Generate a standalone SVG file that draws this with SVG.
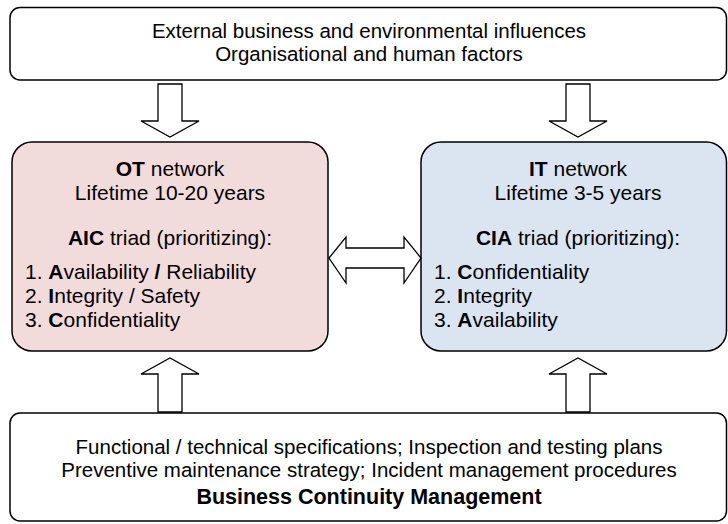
<svg xmlns="http://www.w3.org/2000/svg" width="728" height="524" viewBox="0 0 728 524">
<style>
text{font-family:"Liberation Sans",Arial,sans-serif;font-size:20.5px;fill:#000}
.n text{font-size:21px}
.b{font-weight:bold}
.box{stroke:#000;stroke-width:1.5}
.arr{fill:#fff;stroke:#000;stroke-width:1.3;stroke-linejoin:miter}
</style>
<rect width="728" height="524" fill="#fff"/>
<g id="top">
<rect class="box" x="10" y="7.5" width="716.5" height="72.5" rx="10" fill="#fff"/>
<text x="369" y="38" text-anchor="middle">External business and environmental influences</text>
<text x="369" y="61" text-anchor="middle">Organisational and human factors</text>
</g>
<g id="ot" class="n">
<rect class="box" x="12" y="142" width="316" height="209" rx="20" fill="#f2dcdb"/>
<text x="170" y="176" text-anchor="middle"><tspan class="b">OT</tspan> network</text>
<text x="170" y="200" text-anchor="middle">Lifetime 10-20 years</text>
<text x="170" y="245" text-anchor="middle"><tspan class="b">AIC</tspan> triad (prioritizing):</text>
<text x="25" y="279">1. <tspan class="b">A</tspan>vailability <tspan class="b">/</tspan> Reliability</text>
<text x="25" y="303">2. <tspan class="b">I</tspan>ntegrity / Safety</text>
<text x="25" y="327">3. <tspan class="b">C</tspan>onfidentiality</text>
</g>
<g id="it" class="n">
<rect class="box" x="421" y="142" width="305.5" height="209" rx="20" fill="#dbe5f1"/>
<text x="578" y="176" text-anchor="middle"><tspan class="b">IT</tspan> network</text>
<text x="578" y="200" text-anchor="middle">Lifetime 3-5 years</text>
<text x="578" y="245" text-anchor="middle"><tspan class="b">CIA</tspan> triad (prioritizing):</text>
<text x="434" y="279">1. <tspan class="b">C</tspan>onfidentiality</text>
<text x="434" y="303">2. <tspan class="b">I</tspan>ntegrity</text>
<text x="434" y="327">3. <tspan class="b">A</tspan>vailability</text>
</g>
<g id="bottom">
<rect class="box" x="10" y="413" width="716.5" height="108" rx="10" fill="#fff"/>
<text x="369" y="454" text-anchor="middle">Functional / technical specifications; Inspection and testing plans</text>
<text x="369" y="477" text-anchor="middle">Preventive maintenance strategy; Incident management procedures</text>
<text x="369" y="504" text-anchor="middle" class="b" style="font-size:21.5px">Business Continuity Management</text>
</g>
<g id="connectors">
<path class="arr" d="M158,84 H182 V121 H199 L170,137 L141,121 H158 Z"/>
<path class="arr" d="M566,84 H590 V121 H607 L578,137 L549,121 H566 Z"/>
<path class="arr" d="M158,412 H182 V374 H199 L170,358 L141,374 H158 Z"/>
<path class="arr" d="M566,412 H590 V374 H607 L578,358 L549,374 H566 Z"/>
<path class="arr" d="M329,258 L346,237 V248 H404 V237 L421,258 L404,283 V268 H346 V283 Z"/>
</g>
</svg>
